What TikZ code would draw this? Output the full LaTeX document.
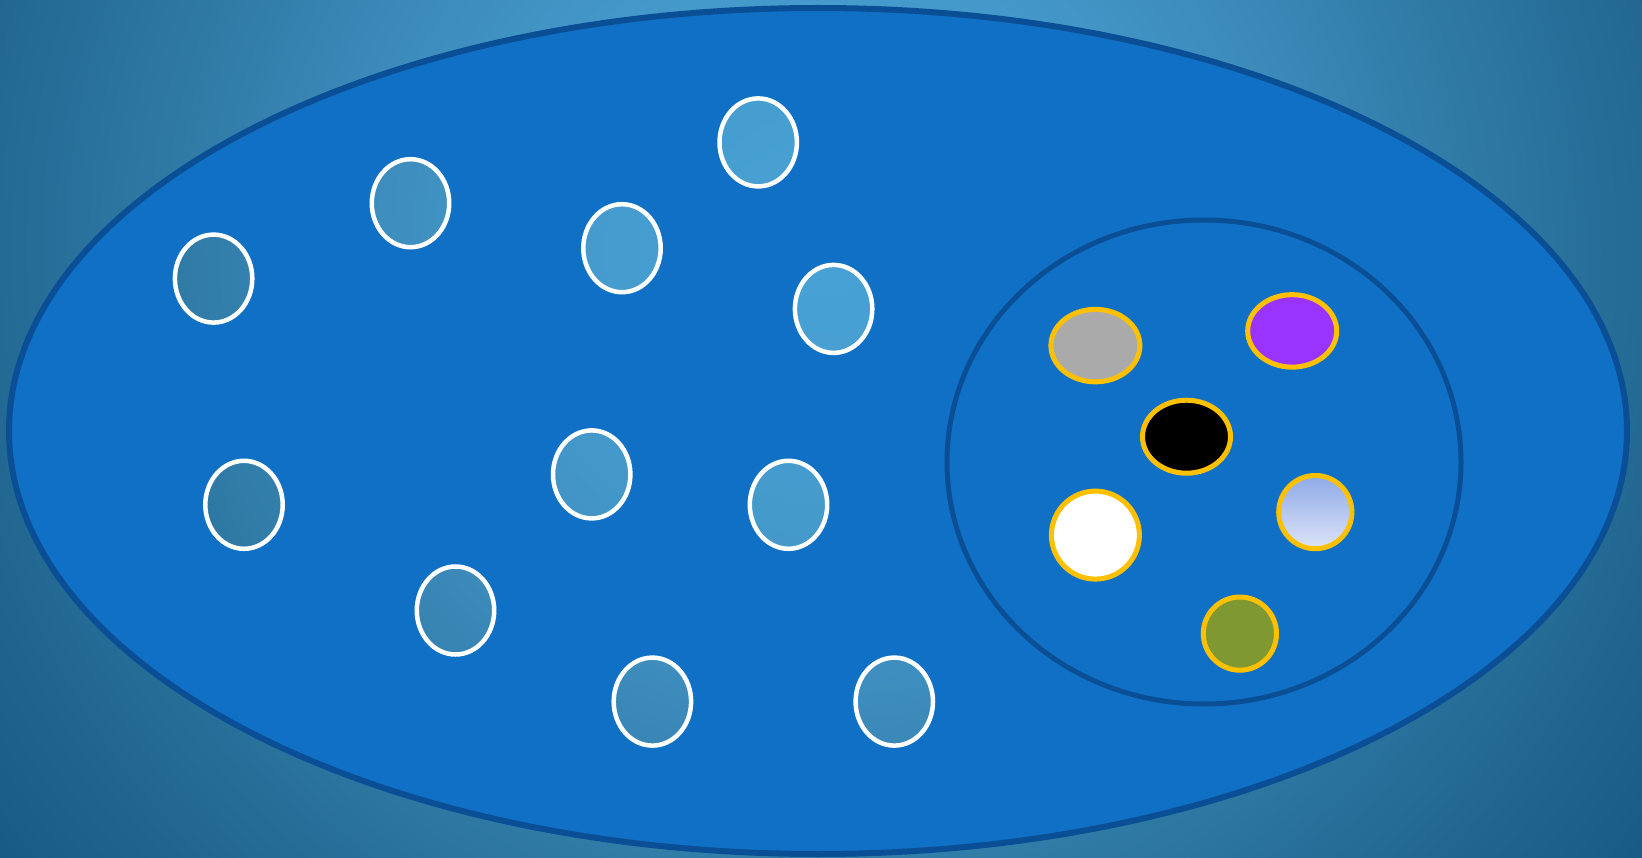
\documentclass[tikz,border=0pt]{standalone}
\usetikzlibrary{shapes.geometric}
\definecolor{bgA}{HTML}{48A2D6}
\definecolor{bgB}{HTML}{4499CA}
\definecolor{bgC}{HTML}{3A88B8}
\definecolor{bgD}{HTML}{2F7AA5}
\definecolor{bgE}{HTML}{226892}
\definecolor{bgF}{HTML}{135480}
\definecolor{lakeFill}{HTML}{1070C6}
\definecolor{lakeEdge}{HTML}{0A4F96}
\definecolor{gold}{HTML}{FFC000}
\definecolor{greyFill}{HTML}{AAAAAA}
\definecolor{purpleFill}{HTML}{9933FF}
\definecolor{oliveFill}{HTML}{7F9832}
\definecolor{skyTop}{HTML}{8EAAE8}
\definecolor{skyBot}{HTML}{DDE4F7}
\pgfdeclareradialshading{bgshade}{\pgfpoint{0bp}{0bp}}{%
  color(0bp)=(bgA); color(6.8bp)=(bgB); color(11.35bp)=(bgC);
  color(14.75bp)=(bgD); color(19.3bp)=(bgE); color(25bp)=(bgF); color(50bp)=(bgF)}
\tikzset{
  hole/.style={ellipse, draw=white, line width=4.5pt, inner sep=0pt,
    minimum width=77.4pt, minimum height=88pt},
  member/.style={ellipse, draw=gold, line width=5pt, inner sep=0pt},
  wideMember/.style={member, minimum width=89pt, minimum height=72.5pt},
  roundMember/.style={member, minimum width=73.2pt, minimum height=73.2pt},
}
\begin{document}
\begin{tikzpicture}[x=1pt,y=-1pt]
\useasboundingbox (0,0) rectangle (1642,858);
\begin{scope}
  \clip (0,0) rectangle (1642,858);
  \shade[shading=bgshade] (821,250) circle [radius=1100];
\end{scope}
% lake with windows
\fill[lakeFill, even odd rule]
  (818,431) ellipse [x radius=809, y radius=423]
  (213.6,278.6) ellipse [x radius=38.7, y radius=44]
  (410.5,203.2) ellipse [x radius=38.7, y radius=44]
  (622.0,248.2) ellipse [x radius=38.7, y radius=44]
  (758.2,142.4) ellipse [x radius=38.7, y radius=44]
  (833.6,308.9) ellipse [x radius=38.7, y radius=44]
  (244.0,504.8) ellipse [x radius=38.7, y radius=44]
  (591.7,474.4) ellipse [x radius=38.7, y radius=44]
  (788.5,504.8) ellipse [x radius=38.7, y radius=44]
  (455.5,610.5) ellipse [x radius=38.7, y radius=44]
  (652.4,701.6) ellipse [x radius=38.7, y radius=44]
  (894.3,701.6) ellipse [x radius=38.7, y radius=44];
\node[ellipse, draw=lakeEdge, line width=6pt, inner sep=0pt,
  minimum width=1618pt, minimum height=846pt] (lake) at (818,431) {};
\node[ellipse, draw=lakeEdge, line width=5pt, inner sep=0pt,
  minimum width=514pt, minimum height=484pt] (pond) at (1204,462) {};
% windows
\node[hole] (h1) at (213.6,278.6) {};
\node[hole] (h2) at (410.5,203.2) {};
\node[hole] (h3) at (622.0,248.2) {};
\node[hole] (h4) at (758.2,142.4) {};
\node[hole] (h5) at (833.6,308.9) {};
\node[hole] (h6) at (244.0,504.8) {};
\node[hole] (h7) at (591.7,474.4) {};
\node[hole] (h8) at (788.5,504.8) {};
\node[hole] (h9) at (455.5,610.5) {};
\node[hole] (h10) at (652.4,701.6) {};
\node[hole] (h11) at (894.3,701.6) {};
% members of the pond
\node[wideMember, fill=greyFill] (grey) at (1095.4,345.6) {};
\node[wideMember, fill=purpleFill] (purple) at (1292.2,330.9) {};
\node[wideMember, fill=black, minimum height=73pt, minimum width=88pt] (black) at (1186.5,436.7) {};
\node[member, fill=white, minimum width=88pt, minimum height=88pt] (white) at (1095.4,535.1) {};
\node[roundMember, top color=skyTop, bottom color=skyBot] (sky) at (1315.3,512.1) {};
\node[roundMember, fill=oliveFill] (olive) at (1239.9,633.6) {};
\end{tikzpicture}
\end{document}
